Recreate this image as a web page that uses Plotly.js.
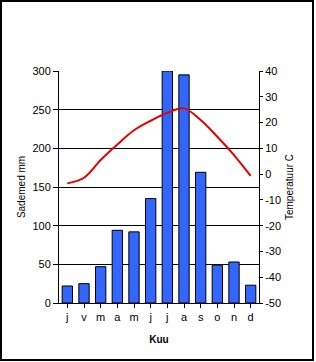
<!DOCTYPE html>
<html>
<head>
<meta charset="utf-8">
<script src="https://cdn.plot.ly/plotly-3.0.1.min.js"></script>
<style>
html,body{margin:0;padding:0;background:#fff;}
#wrap{position:relative;width:316px;height:362px;}
#chart{width:316px;height:362px;}
#frame{position:absolute;left:0;top:0;width:310px;height:357px;border:2px solid #000;pointer-events:none;}
</style>
</head>
<body>
<div id="wrap"><div id="chart"></div><div id="frame"></div></div>
<script>
const months = ["j","v","m","a","m","j","j","a","s","o","n","d"];
const precipitation = [22, 25, 47, 94, 92, 135, 300, 295, 169, 49, 53, 23];
const temperature = [-3.6, -1.4, 5.5, 11.5, 17.0, 20.7, 23.8, 25.5, 21, 14.5, 7.4, -0.7];
const tempTicks = [-50, -40, -30, -20, -10, 0, 10, 20, 30, 40];
const monthIdx = months.map((m, i) => i);

const traces = [
  {
    type: "bar",
    x: monthIdx,
    y: precipitation,
    marker: {color: "#3366FF", line: {color: "#000", width: 1}},
    width: 0.62,
    yaxis: "y",
    hoverinfo: "none"
  },
  {
    type: "scatter",
    mode: "lines",
    x: monthIdx,
    y: temperature,
    line: {color: "#E60000", width: 2, shape: "spline", smoothing: 1},
    yaxis: "y2",
    hoverinfo: "none"
  }
];

const font = {family: "Liberation Sans, Arial, sans-serif", color: "#000"};
const layout = {
  width: 316,
  height: 362,
  margin: {l: 59, r: 57, t: 71, b: 59},
  paper_bgcolor: "#fff",
  plot_bgcolor: "#fff",
  showlegend: false,
  font: font,
  xaxis: {
    tickmode: "array",
    tickvals: monthIdx,
    ticktext: months,
    range: [-0.5, 11.5],
    showline: true, linecolor: "#000", linewidth: 1,
    ticks: "outside", ticklen: 4, tickcolor: "#000",
    tickson: "boundaries",
    showgrid: false, zeroline: false,
    tickfont: {family: font.family, size: 11, color: "#000"},
    title: {text: "<b>Kuu</b>", font: {family: font.family, size: 10, color: "#000"}, standoff: 13}
  },
  yaxis: {
    range: [0, 300],
    dtick: 50,
    showline: true, linecolor: "#000", linewidth: 1,
    ticks: "outside", ticklen: 5, tickcolor: "#000",
    showgrid: true, gridcolor: "#000", gridwidth: 1,
    zeroline: false,
    tickfont: {family: font.family, size: 11, color: "#000"},
    title: {text: "Sademed mm", font: {family: font.family, size: 10, color: "#000"}, standoff: 4}
  },
  yaxis2: {
    overlaying: "y",
    side: "right",
    range: [-50, 40],
    tickmode: "array",
    tickvals: tempTicks,
    ticktext: tempTicks.map(String),
    showline: true, linecolor: "#000", linewidth: 1,
    ticks: "outside", ticklen: 3, tickcolor: "#000",
    showgrid: false, zeroline: false,
    tickfont: {family: font.family, size: 11, color: "#000"},
    title: {text: "Temperatuur C", font: {family: font.family, size: 10, color: "#000"}, standoff: 5}
  }
};

Plotly.newPlot("chart", traces, layout, {displayModeBar: false, staticPlot: true});
</script>
</body>
</html>
